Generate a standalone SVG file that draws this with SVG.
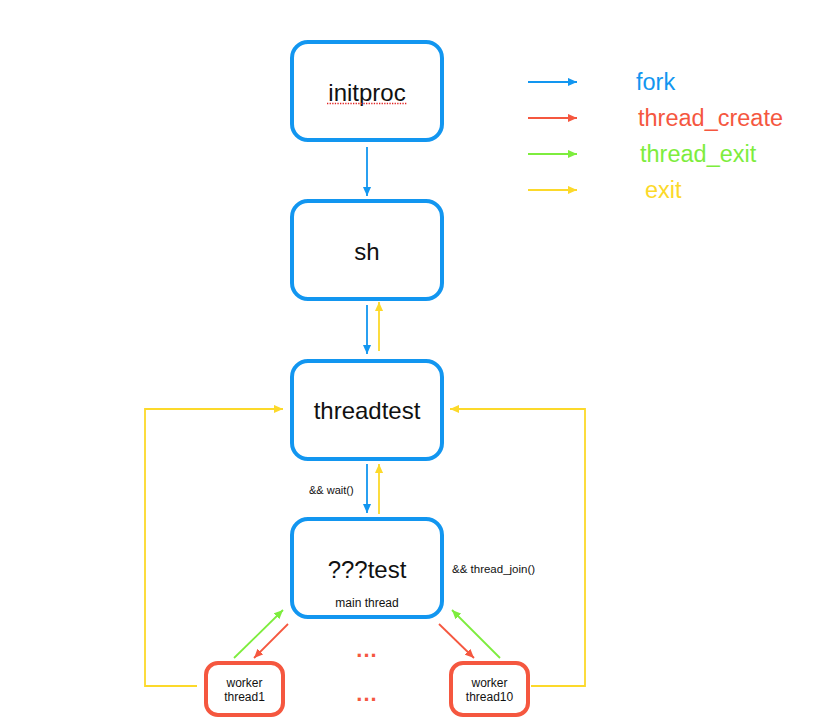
<svg xmlns="http://www.w3.org/2000/svg" width="829" height="725" viewBox="0 0 829 725">
<style>
text{font-family:"Liberation Sans",Arial,sans-serif;fill:#111}
.box{fill:#fff;stroke:#1296f0;stroke-width:4}
.wbox{fill:#fff;stroke:#f5573f;stroke-width:4}
.big{font-size:24px;text-anchor:middle}
.sm{font-size:11.5px}
.w{font-size:12px;text-anchor:middle}
.b{stroke:#1296f0;stroke-width:1.8;fill:none}
.r{stroke:#f5573f;stroke-width:1.8;fill:none}
.g{stroke:#7ded3d;stroke-width:1.8;fill:none}
.y{stroke:#fcd92a;stroke-width:1.8;fill:none}
.leg{font-size:23.5px}
.dots{font-size:22px;text-anchor:middle;fill:#f5573f;font-weight:bold;letter-spacing:1px}
</style>
<defs>
<marker id="mb" viewBox="0 0 10 10" refX="10" refY="5" markerWidth="9" markerHeight="9" markerUnits="userSpaceOnUse" orient="auto"><path d="M0,0.5L10,5L0,9.5z" fill="#1296f0"/></marker>
<marker id="mr" viewBox="0 0 10 10" refX="10" refY="5" markerWidth="9" markerHeight="9" markerUnits="userSpaceOnUse" orient="auto"><path d="M0,0.5L10,5L0,9.5z" fill="#f5573f"/></marker>
<marker id="mg" viewBox="0 0 10 10" refX="10" refY="5" markerWidth="9" markerHeight="9" markerUnits="userSpaceOnUse" orient="auto"><path d="M0,0.5L10,5L0,9.5z" fill="#7ded3d"/></marker>
<marker id="my" viewBox="0 0 10 10" refX="10" refY="5" markerWidth="9" markerHeight="9" markerUnits="userSpaceOnUse" orient="auto"><path d="M0,0.5L10,5L0,9.5z" fill="#fcd92a"/></marker>
</defs>
<rect width="829" height="725" fill="#fff"/>
<g id="legend">
<line class="b" x1="528" y1="82" x2="577" y2="82" marker-end="url(#mb)"/>
<line class="r" x1="528" y1="118" x2="577" y2="118" marker-end="url(#mr)"/>
<line class="g" x1="528" y1="154" x2="577" y2="154" marker-end="url(#mg)"/>
<line class="y" x1="528" y1="190" x2="577" y2="190" marker-end="url(#my)"/>
<text class="leg" x="636" y="90" style="fill:#1296f0">fork</text>
<text class="leg" x="638" y="126" style="fill:#f5573f">thread_create</text>
<text class="leg" x="640" y="162" style="fill:#7ded3d">thread_exit</text>
<text class="leg" x="645" y="198" style="fill:#fcd92a">exit</text>
</g>
<g id="connectors">
<line class="b" x1="367" y1="147" x2="367" y2="196" marker-end="url(#mb)"/>
<line class="b" x1="367" y1="305" x2="367" y2="354" marker-end="url(#mb)"/>
<line class="y" x1="379" y1="351" x2="379" y2="302" marker-end="url(#my)"/>
<line class="b" x1="367" y1="464" x2="367" y2="513" marker-end="url(#mb)"/>
<line class="y" x1="379" y1="514" x2="379" y2="464" marker-end="url(#my)"/>
<polyline class="y" points="197,686 145,686 145,409 283,409" marker-end="url(#my)"/>
<polyline class="y" points="531,686 585,686 585,409 450,409" marker-end="url(#my)"/>
<line class="g" x1="234" y1="658" x2="283" y2="610" marker-end="url(#mg)"/>
<line class="r" x1="288" y1="624" x2="254" y2="658" marker-end="url(#mr)"/>
<line class="r" x1="439" y1="624" x2="474" y2="658" marker-end="url(#mr)"/>
<line class="g" x1="500" y1="658" x2="452" y2="610" marker-end="url(#mg)"/>
<text class="sm" x="309" y="494" style="font-size:11px">&amp;&amp; wait()</text>
<text class="sm" x="452" y="573">&amp;&amp; thread_join()</text>
</g>
<g id="initproc">
<rect class="box" x="292" y="42" width="150" height="98" rx="16"/>
<text class="big" x="367" y="101">initproc</text>
<line x1="327" y1="103.5" x2="407" y2="103.5" stroke="#e02020" stroke-width="1.3" stroke-dasharray="1.3 1.3"/>
</g>
<g id="sh">
<rect class="box" x="292" y="201" width="150" height="98" rx="16"/>
<text class="big" x="367" y="260">sh</text>
</g>
<g id="threadtest">
<rect class="box" x="292" y="361" width="150" height="98" rx="16"/>
<text class="big" x="367" y="419">threadtest</text>
</g>
<g id="test">
<rect class="box" x="292" y="519" width="150" height="98" rx="16"/>
<text class="big" x="367" y="578">???test</text>
<text class="w" x="367" y="607">main thread</text>
</g>
<g id="worker1">
<rect class="wbox" x="206" y="663" width="77" height="52" rx="12"/>
<text class="w" x="244.5" y="687">worker</text>
<text class="w" x="244.5" y="701">thread1</text>
</g>
<g id="worker10">
<rect class="wbox" x="451" y="663" width="77" height="52" rx="12"/>
<text class="w" x="489.5" y="687">worker</text>
<text class="w" x="489.5" y="701">thread10</text>
</g>
<g id="dots">
<text class="dots" x="367" y="657">...</text>
<text class="dots" x="367" y="701">...</text>
</g>
</svg>
